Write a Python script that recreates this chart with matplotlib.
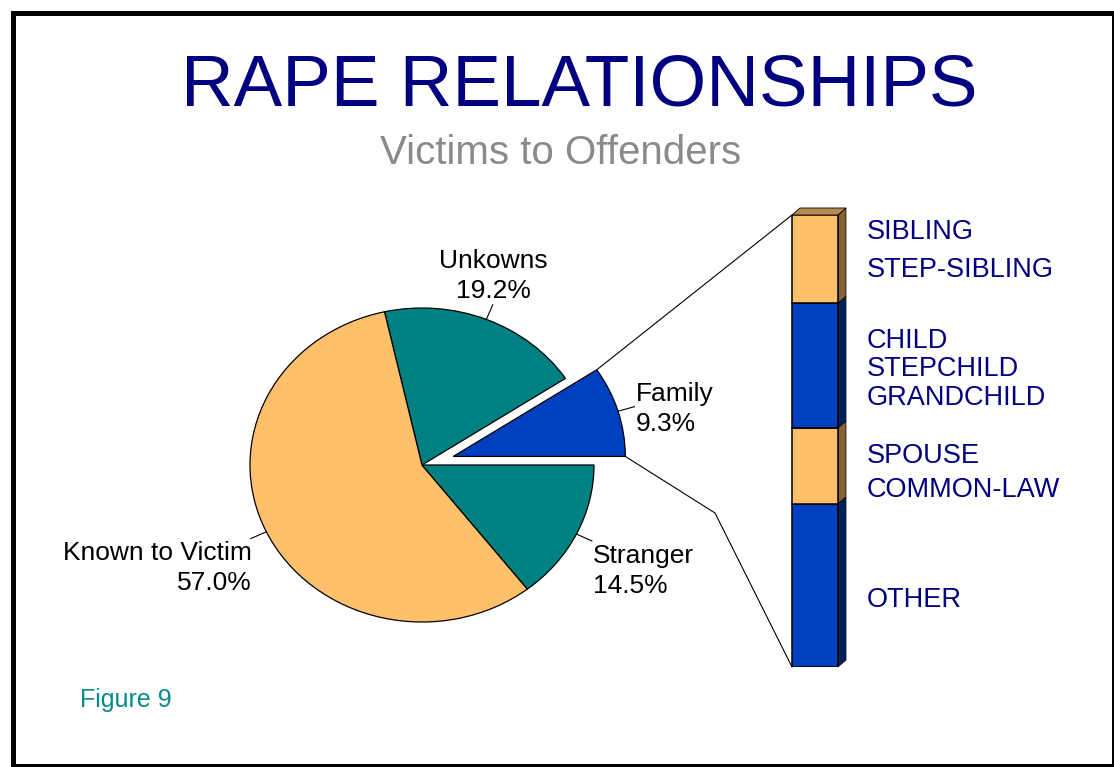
import matplotlib.pyplot as plt
import numpy as np
from matplotlib.patches import Rectangle, Polygon

plt.rcParams['font.family'] = ['Liberation Sans', 'DejaVu Sans']

# dados do grafico
pie_labels = ['Family', 'Unkowns', 'Known to Victim', 'Stranger']
pie_values = [9.3, 19.2, 57.0, 14.5]
pie_colors = ['#0040C0', '#008080', '#FFC06C', '#008080']

# barra da familia (de baixo para cima)
bar_values = [36.1, 16.8, 27.6, 19.5]
bar_colors = ['#0040C0', '#FFC06C', '#0040C0', '#FFC06C']
side_colors = ['#00205E', '#856234', '#00205E', '#856234']
bar_lines = [['OTHER'], ['SPOUSE', 'COMMON-LAW'],
             ['CHILD', 'STEPCHILD', 'GRANDCHILD'], ['SIBLING', 'STEP-SIBLING']]

W, H = 1114, 767
NAVY = '#000080'

fig = plt.figure(figsize=(W / 100, H / 100), dpi=100)


def box(x0, y0, x1, y1):
    # caixa em pixeis (origem em cima a esquerda) -> fracao da figura
    return [x0 / W, 1 - y1 / H, (x1 - x0) / W, (y1 - y0) / H]


# --- pie ---
ax_pie = fig.add_axes(box(207, 268.75, 637, 661.25))
wedges, _ = ax_pie.pie(pie_values, colors=pie_colors, startangle=0,
                       explode=[0.19, 0, 0, 0],
                       wedgeprops=dict(edgecolor='black', linewidth=0.9))
ax_pie.set_aspect('auto')
ax_pie.set_xlim(-1.25, 1.25)
ax_pie.set_ylim(-1.25, 1.25)

# --- barra empilhada ---
ax_bar = fig.add_axes(box(765, 215, 865, 667))
bottoms = np.concatenate([[0], np.cumsum(bar_values)[:-1]])
ax_bar.bar(0.5, bar_values, bottom=bottoms, width=0.46, color=bar_colors,
           edgecolor='black', linewidth=1.1, zorder=3)
ax_bar.set_xlim(0, 1)
ax_bar.set_ylim(0, sum(bar_values))
ax_bar.axis('off')

# efeito 3D da barra
dx, dy = 0.08, 1.55
xl, xr = 0.27, 0.73
for b, v, c in zip(bottoms, bar_values, side_colors):
    ax_bar.add_patch(Polygon([(xr, b), (xr + dx, b + dy), (xr + dx, b + v + dy), (xr, b + v)],
                             closed=True, facecolor=c, edgecolor='black',
                             linewidth=0.5, clip_on=False, zorder=2))
top = sum(bar_values)
ax_bar.add_patch(Polygon([(xl, top), (xl + dx, top + dy), (xr + dx, top + dy), (xr, top)],
                         closed=True, facecolor='#B48A52', edgecolor='black',
                         linewidth=0.6, clip_on=False, zorder=2))

# --- camada de cima em pixeis ---
ov = fig.add_axes([0, 0, 1, 1])
ov.set_xlim(0, W)
ov.set_ylim(H, 0)
ov.axis('off')


def to_px(ax, pt):
    return ov.transData.inverted().transform(ax.transData.transform(pt))


# linhas de chamada das etiquetas
for w in wedges:
    ang = np.deg2rad((w.theta1 + w.theta2) / 2)
    cx, cy = w.center
    ax_pie.plot([cx + np.cos(ang), cx + 1.1 * np.cos(ang)],
                [cy + np.sin(ang), cy + 1.1 * np.sin(ang)],
                color='black', linewidth=0.8, clip_on=False)

# etiquetas do pie: (x, baseline, alinhamento)
label_pos = [(636, 401, 'left'), (493, 268, 'center'),
             (252, 560, 'right'), (593, 563, 'left')]
for name, v, (x, y, ha) in zip(pie_labels, pie_values, label_pos):
    ov.text(x, y, name, ha=ha, va='baseline', fontsize=19)
    ov.text(x, y + 30, f'{v:.1f}%', ha=ha, va='baseline', fontsize=19)

# linhas que ligam a fatia Family a barra
fam = wedges[0]
cx, cy = fam.center
t1, t2 = np.deg2rad(fam.theta1), np.deg2rad(fam.theta2)
p_top = to_px(ax_pie, (cx + np.cos(t2), cy + np.sin(t2)))
p_bot = to_px(ax_pie, (cx + np.cos(t1), cy + np.sin(t1)))
b_top = to_px(ax_bar, (xl, top))
b_bot = to_px(ax_bar, (xl, 0))
ov.plot([p_top[0], b_top[0]], [p_top[1], b_top[1]], color='black', linewidth=0.8)
ov.plot([p_bot[0], 715, b_bot[0]], [p_bot[1], 513, b_bot[1]], color='black', linewidth=0.8)

# textos da barra (baselines em pixeis)
bar_baselines = [[607], [463, 497], [348, 376, 405], [239, 277]]
for lines, ys in zip(bar_lines, bar_baselines):
    for txt, y in zip(lines, ys):
        ov.text(867, y, txt, ha='left', va='baseline', fontsize=19.5, color=NAVY)

# titulos
ov.text(579, 105, 'RAPE RELATIONSHIPS', ha='center', va='baseline', fontsize=52.5, color=NAVY)
ov.text(561, 164, 'Victims to Offenders', ha='center', va='baseline', fontsize=29, color='#8A8A8A')
ov.text(80, 707, 'Figure 9', ha='left', va='baseline', fontsize=18, color='#0A8A8A')

# moldura
ov.add_patch(Rectangle((12.5, 12.5), 1101, 753.5, fill=False, edgecolor='black',
                       linewidth=3.6, clip_on=False))

fig.savefig('out.png', dpi=100)
